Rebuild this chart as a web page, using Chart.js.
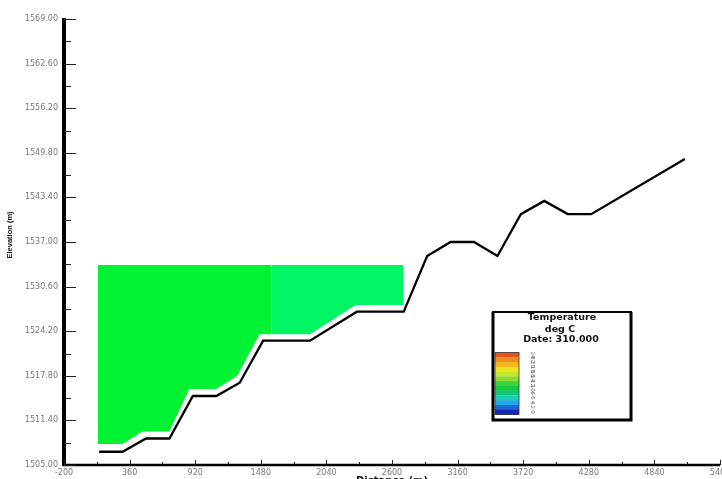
<!DOCTYPE html>
<html>
<head>
<meta charset="utf-8">
<script src="https://cdn.jsdelivr.net/npm/chart.js@4.4.1/dist/chart.umd.min.js"></script>
<style>
  html, body { margin: 0; padding: 0; background: #ffffff; }
  #wrap { position: relative; width: 722px; height: 479px; }
</style>
</head>
<body>
<div id="wrap"><canvas id="c"></canvas></div>
<script>
// ---- data ----
const xTickValues = [-200, 360, 920, 1480, 2040, 2600, 3160, 3720, 4280, 4840, 5400];
const xTickLabels = ['-200', '360', '920', '1480', '2040', '2600', '3160', '3720', '4280', '4840', '5400'];
const yTickValues = [1505, 1511.4, 1517.8, 1524.2, 1530.6, 1537, 1543.4, 1549.8, 1556.2, 1562.6, 1569];
const yTickLabels = ['1505.00', '1511.40', '1517.80', '1524.20', '1530.60', '1537.00', '1543.40', '1549.80', '1556.20', '1562.60', '1569.00'];

// channel bottom profile (black line)
const terrainX = [100, 300, 500, 700, 900, 1100, 1300, 1500, 1900, 2300, 2700, 2900, 3100, 3300, 3500, 3700, 3900, 4100, 4300, 5100];
const terrainY = [1506.9, 1506.9, 1508.8, 1508.8, 1514.9, 1514.9, 1516.8, 1522.85, 1522.85, 1527.0, 1527.0, 1535.0, 1537.0, 1537.0, 1535.0, 1541.0, 1542.9, 1541.0, 1541.0, 1548.9];

// water surface elevation and bottom of the coloured cells
const waterSurface = 1533.7;
const cellLeftX = [90, 300, 470, 700, 870, 1100, 1280, 1470, 1570];
const cellLeftY = [1508.0, 1508.0, 1509.8, 1509.8, 1515.9, 1515.9, 1517.8, 1523.75, 1523.75];
const cellRightX = [1570, 1900, 2290, 2700];
const cellRightY = [1523.75, 1523.75, 1527.95, 1527.95];
const cellLeftColor = '#00f233';
const cellRightColor = '#00f463';

// temperature legend
const legendTitle = ['Temperature', 'deg C', 'Date: 310.000'];
const legendLabels = ['24', '22', '20', '18', '16', '14', '12', '10', '8', '6', '4', '2', '0'];
const legendColors = ['#e8501c', '#f28a22', '#f6b61f', '#eee41f', '#c4e82c', '#8edc34', '#3cd43a', '#14cc44', '#12c878', '#1ad0b4', '#1ea8e4', '#1e66dc', '#1426b8'];

const xTitle = 'Distance (m)';
const yTitle = 'Elevation (m)';

const toPts = (xs, ys) => xs.map((x, i) => ({ x: x, y: ys[i] }));

const decorPlugin = {
  id: 'decor',
  afterDraw(chart) {
    const ctx = chart.ctx;
    const xs = chart.scales.x, ys = chart.scales.y;
    const ca = chart.chartArea;
    ctx.save();
    ctx.strokeStyle = '#000';
    ctx.fillStyle = '#000';
    // y axis line
    ctx.lineWidth = 4;
    ctx.beginPath();
    ctx.moveTo(ca.left, ys.getPixelForValue(yTickValues[yTickValues.length - 1]) - 1);
    ctx.lineTo(ca.left, ca.bottom + 1);
    ctx.stroke();
    // x axis line
    ctx.lineWidth = 2.5;
    ctx.beginPath();
    ctx.moveTo(ca.left - 2, ca.bottom);
    ctx.lineTo(ca.right, ca.bottom);
    ctx.stroke();
    // y ticks (inward)
    ctx.lineWidth = 1;
    ctx.strokeStyle = '#222';
    for (let i = 0; i < yTickValues.length; i++) {
      const py = Math.round(ys.getPixelForValue(yTickValues[i])) + 0.5;
      ctx.beginPath(); ctx.moveTo(ca.left, py); ctx.lineTo(ca.left + 12, py); ctx.stroke();
      if (i < yTickValues.length - 1) {
        const pm = Math.round(ys.getPixelForValue((yTickValues[i] + yTickValues[i + 1]) / 2)) + 0.5;
        ctx.beginPath(); ctx.moveTo(ca.left, pm); ctx.lineTo(ca.left + 7, pm); ctx.stroke();
      }
    }
    // x ticks (inward)
    for (let i = 0; i < xTickValues.length; i++) {
      const px = Math.round(xs.getPixelForValue(xTickValues[i])) + 0.5;
      ctx.beginPath(); ctx.moveTo(px, ca.bottom); ctx.lineTo(px, ca.bottom - 5); ctx.stroke();
      if (i < xTickValues.length - 1) {
        const pm = Math.round(xs.getPixelForValue((xTickValues[i] + xTickValues[i + 1]) / 2)) + 0.5;
        ctx.beginPath(); ctx.moveTo(pm, ca.bottom); ctx.lineTo(pm, ca.bottom - 3); ctx.stroke();
      }
    }
    // axis titles
    ctx.fillStyle = '#111';
    ctx.font = 'bold 10px "DejaVu Sans", sans-serif';
    ctx.textAlign = 'center';
    ctx.textBaseline = 'middle';
    ctx.fillText(xTitle, (ca.left + ca.right) / 2, 481);
    ctx.save();
    ctx.translate(10, 235);
    ctx.rotate(-Math.PI / 2);
    ctx.font = 'bold 7.5px "Liberation Sans Narrow", "Liberation Sans", sans-serif';
    ctx.fillText(yTitle, 0, 0);
    ctx.restore();

    // legend box
    const bx = 493, by = 312, bw = 138, bh = 108;
    ctx.fillStyle = '#fff';
    ctx.fillRect(bx, by, bw, bh);
    ctx.strokeStyle = '#000';
    ctx.lineWidth = 2;
    ctx.strokeRect(bx, by, bw, bh);
    ctx.lineWidth = 3;
    ctx.beginPath();
    ctx.moveTo(bx, by); ctx.lineTo(bx, by + bh); ctx.lineTo(bx + bw, by + bh); ctx.lineTo(bx + bw, by);
    ctx.stroke();
    ctx.fillStyle = '#111';
    ctx.font = 'bold 9.5px "DejaVu Sans", sans-serif';
    ctx.textAlign = 'center';
    ctx.fillText(legendTitle[0], 562, 318);
    ctx.fillText(legendTitle[1], 560, 329.5);
    ctx.fillText(legendTitle[2], 561, 340);
    // colour bar
    const cx = 495, cy = 352.5, cw = 24, chH = 62;
    const sh = chH / legendColors.length;
    for (let i = 0; i < legendColors.length; i++) {
      ctx.fillStyle = legendColors[i];
      ctx.fillRect(cx, cy + i * sh, cw, sh + 0.3);
    }
    ctx.strokeStyle = '#333';
    ctx.lineWidth = 0.8;
    ctx.strokeRect(cx, cy, cw, chH);
    ctx.fillStyle = '#666';
    ctx.font = '5.5px "DejaVu Sans", sans-serif';
    for (let i = 0; i < legendLabels.length; i++) {
      ctx.save();
      ctx.translate(532, cy + (i + 0.5) * sh);
      ctx.rotate(Math.PI / 2);
      ctx.textAlign = 'center';
      ctx.textBaseline = 'middle';
      ctx.fillText(legendLabels[i], 0, 0);
      ctx.restore();
    }
    ctx.restore();
  }
};

new Chart(document.getElementById('c'), {
  type: 'line',
  data: {
    datasets: [
      {
        label: 'cells 1',
        data: toPts(cellLeftX, cellLeftY),
        borderWidth: 0,
        borderColor: cellLeftColor,
        backgroundColor: cellLeftColor,
        pointRadius: 0,
        tension: 0,
        fill: { value: waterSurface }
      },
      {
        label: 'cells 2',
        data: toPts(cellRightX, cellRightY),
        borderWidth: 0,
        borderColor: cellRightColor,
        backgroundColor: cellRightColor,
        pointRadius: 0,
        tension: 0,
        fill: { value: waterSurface }
      },
      {
        label: 'bottom',
        data: toPts(terrainX, terrainY),
        borderColor: '#000',
        borderWidth: 2.3,
        pointRadius: 0,
        tension: 0,
        fill: false,
        borderJoinStyle: 'miter'
      }
    ]
  },
  options: {
    responsive: true,
    maintainAspectRatio: false,
    animation: false,
    events: [],
    layout: { padding: { top: 19, right: 2, bottom: 0, left: 0 } },
    plugins: { legend: { display: false }, tooltip: { enabled: false }, title: { display: false } },
    scales: {
      x: {
        type: 'linear',
        min: xTickValues[0],
        max: xTickValues[xTickValues.length - 1],
        grid: { display: false, drawTicks: false },
        border: { display: false },
        afterBuildTicks: s => { s.ticks = xTickValues.map(v => ({ value: v })); },
        afterFit: s => { s.height = 14; s.paddingLeft = 0; s.paddingRight = 0; },
        ticks: {
          autoSkip: false, maxRotation: 0, padding: 3,
          color: '#777',
          font: { family: '"DejaVu Sans", sans-serif', size: 8 },
          callback: (v, i) => xTickLabels[i]
        }
      },
      y: {
        type: 'linear',
        min: yTickValues[0],
        max: yTickValues[yTickValues.length - 1],
        grid: { display: false, drawTicks: false },
        border: { display: false },
        afterBuildTicks: s => { s.ticks = yTickValues.map(v => ({ value: v })); },
        afterFit: s => { s.width = 64; s.paddingTop = 0; s.paddingBottom = 0; },
        ticks: {
          autoSkip: false, padding: 6,
          color: '#777',
          font: { family: '"DejaVu Sans", sans-serif', size: 8 },
          callback: (v, i) => yTickLabels[i]
        }
      }
    }
  },
  plugins: [decorPlugin]
});
</script>
</body>
</html>
